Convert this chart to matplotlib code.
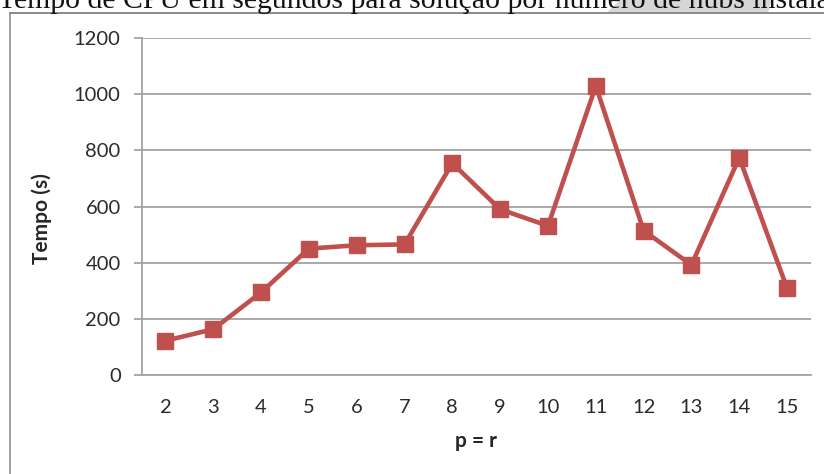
import matplotlib
matplotlib.use("Agg")
import matplotlib.pyplot as plt
from matplotlib.patches import Polygon
from matplotlib.lines import Line2D

# dados: tempo de CPU (s) por p = r
p_values = [2, 3, 4, 5, 6, 7, 8, 9, 10, 11, 12, 13, 14, 15]
cpu_time = [122, 163, 294, 450, 462, 465, 754, 590, 531, 1029, 514, 392, 774, 309]
y_ticks = [0, 200, 400, 600, 800, 1000, 1200]

title_text = "Tempo de CPU em segundos para solução por número de hubs instalados"
x_label = "p = r"
y_label = "Tempo (s)"

W, H = 824, 474
fig = plt.figure(figsize=(W / 100, H / 100), dpi=100)

def px(x, y):
    # pixel (from top-left) -> figure fraction
    return x / W, 1 - y / H

# gray shading behind the title (from the original page)
shade = Polygon([px(607, 12.5), px(620, 0), px(772, 0), px(768, 12.5)],
                closed=True, transform=fig.transFigure, facecolor="#d6d6d6",
                edgecolor="none", zorder=0)
fig.patches.append(shade)

# chart border (partly cut by the crop)
fig.lines.append(Line2D([px(10, 0)[0], px(10, 0)[0]], [px(0, 13)[1], 0],
                        transform=fig.transFigure, color="#a0a0a0", lw=1.4))
fig.lines.append(Line2D([px(10, 0)[0], 1], [px(0, 13)[1], px(0, 13)[1]],
                        transform=fig.transFigure, color="#8a8a8a", lw=1.4))

x0, y1 = px(141.5, 38)
x1, y0 = px(811, 375)
ax = fig.add_axes([x0, y0, x1 - x0, y1 - y0])

ax.plot(p_values, cpu_time, color="#c0504d", lw=3.3, marker="s",
        markersize=12, markerfacecolor="#c0504d", markeredgecolor="#c0504d",
        zorder=3, clip_on=False)

ax.set_xlim(1.5, 15.5)
ax.set_ylim(0, 1200)
ax.set_xticks(p_values)
ax.set_xticklabels([str(v) for v in p_values])
ax.set_yticks(y_ticks)
ax.set_yticklabels([str(v) for v in y_ticks])

grid_c = "#a3a3a3"
ax.grid(axis="y", color=grid_c, lw=1.3)
ax.set_axisbelow(True)
for s in ["top", "right"]:
    ax.spines[s].set_visible(False)
ax.spines["left"].set_color(grid_c)
ax.spines["left"].set_linewidth(1.3)
ax.spines["bottom"].set_color(grid_c)
ax.spines["bottom"].set_linewidth(1.3)

ax.tick_params(axis="y", length=6, width=1.3, color=grid_c, pad=9,
               labelcolor="#2b2b2b")
ax.tick_params(axis="x", length=0, pad=17, labelcolor="#2b2b2b")
for lab in ax.get_xticklabels() + ax.get_yticklabels():
    lab.set_fontfamily(["Lato", "DejaVu Sans"])
    lab.set_fontsize(14.5)

fig.text(*px(476, 441), x_label, ha="center", va="center",
         fontsize=15, fontweight="bold", family=["Lato", "DejaVu Sans"],
         color="#262626")
fig.text(*px(42, 219), y_label, ha="center", va="center", rotation=90,
         fontsize=15, fontweight="bold", family=["Lato", "DejaVu Sans"],
         color="#262626")

fig.text(*px(-2, 8), title_text, ha="left", va="baseline", fontsize=21.4,
         family=["Liberation Serif", "DejaVu Serif"], color="#111111",
         zorder=5)

fig.savefig("out.png", dpi=100)
